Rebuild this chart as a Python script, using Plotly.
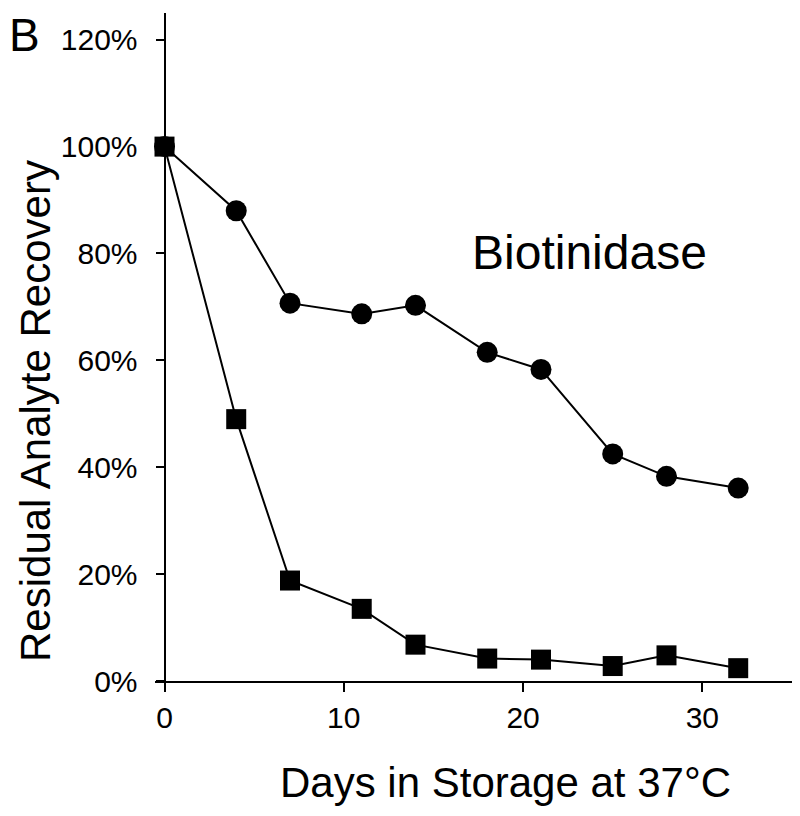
import plotly.graph_objects as go

days = [0, 4, 7, 11, 14, 18, 21, 25, 28, 32]
circle_recovery = [100, 88, 70.7, 68.7, 70.3, 61.5, 58.3, 42.5, 38.3, 36.1]
square_recovery = [100, 49, 18.8, 13.5, 6.8, 4.2, 4.0, 2.8, 4.8, 2.4]
y_ticks = [0, 20, 40, 60, 80, 100, 120]
y_tick_labels = ["0%", "20%", "40%", "60%", "80%", "100%", "120%"]
x_ticks = [0, 10, 20, 30]

# page body has an 8px margin; work in reference pixel coords and shift
OFF = 8
W, H = 800 - OFF, 816 - OFF
L, R, T, B = 155 - OFF, 8, 13 - OFF, 135
PW = W - L - R
PH = H - T - B

def px(x):
    return (x - OFF - L) / PW

def py(y):
    return (H - B - (y - OFF)) / PH

FONT = "Liberation Sans, Arial, sans-serif"

fig = go.Figure()
fig.add_trace(go.Scatter(
    x=days, y=circle_recovery, mode="lines+markers",
    line=dict(color="black", width=2),
    marker=dict(symbol="circle", size=21, color="black"),
    cliponaxis=False, showlegend=False))
fig.add_trace(go.Scatter(
    x=days, y=square_recovery, mode="lines+markers",
    line=dict(color="black", width=2),
    marker=dict(symbol="square", size=20, color="black"),
    cliponaxis=False, showlegend=False))

fig.update_layout(
    width=W, height=H,
    margin=dict(l=L, r=R, t=T, b=B, pad=0),
    paper_bgcolor="white", plot_bgcolor="white",
    font=dict(family=FONT, color="black"),
    xaxis=dict(range=[-0.53, 35.0], tickmode="array", tickvals=x_ticks,
               ticktext=[str(v) for v in x_ticks], ticks="outside",
               ticklen=9, tickwidth=2, tickcolor="black",
               showline=True, linecolor="black", linewidth=2,
               showgrid=False, zeroline=False,
               tickfont=dict(size=30, family=FONT)),
    yaxis=dict(range=[0, 125], tickmode="array", tickvals=y_ticks,
               ticktext=y_tick_labels,
               anchor="free", position=px(164.5),
               ticks="outside", ticklen=8, tickwidth=2, tickcolor="black",
               showline=True, linecolor="black", linewidth=2,
               showgrid=False, zeroline=False,
               tickfont=dict(size=30, family=FONT), ticklabelstandoff=12),
    annotations=[
        dict(text="B", xref="paper", yref="paper", x=px(8), y=py(8),
             xanchor="left", yanchor="top", showarrow=False, borderpad=0,
             font=dict(size=46, family=FONT)),
        dict(text="Biotinidase", xref="paper", yref="paper", x=px(589), y=py(253),
             xanchor="center", yanchor="middle", showarrow=False,
             font=dict(size=48, family=FONT)),
        dict(text="Days in Storage at 37°C", xref="paper", yref="paper",
             x=px(506), y=py(782), xanchor="center", yanchor="middle",
             showarrow=False, font=dict(size=42, family=FONT)),
        dict(text="Residual Analyte Recovery", xref="paper", yref="paper",
             x=px(35), y=py(411), xanchor="center", yanchor="middle",
             textangle=-90, showarrow=False, font=dict(size=42, family=FONT)),
    ],
)

fig.write_html("out.html")
